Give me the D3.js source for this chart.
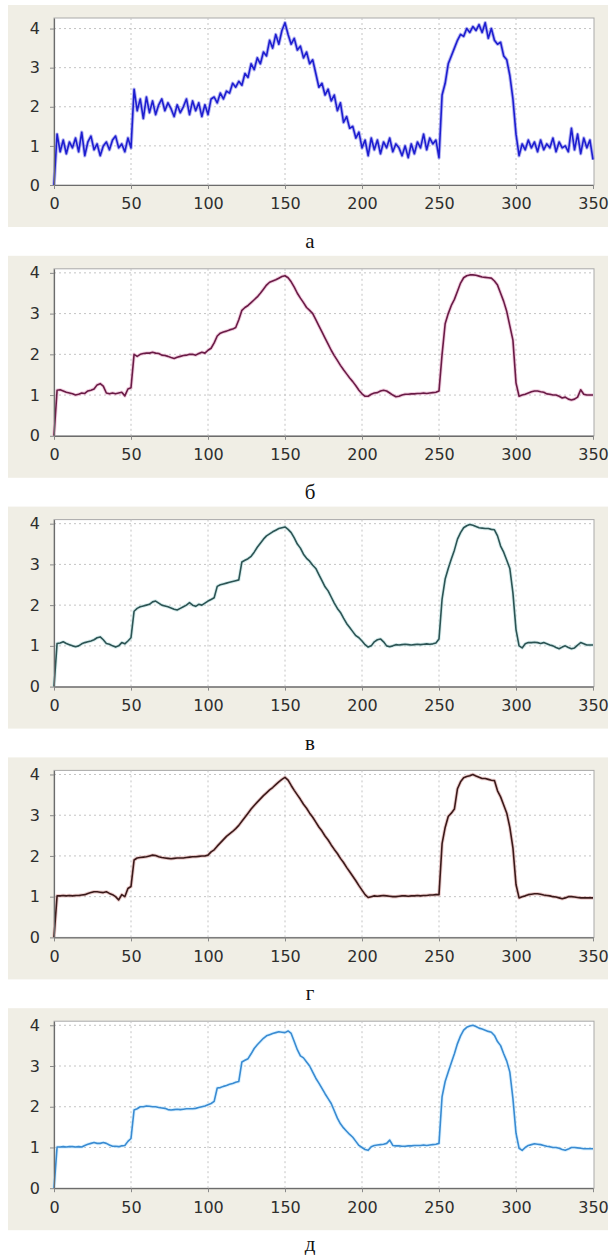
<!DOCTYPE html>
<html>
<head>
<meta charset="utf-8">
<script src="https://cdn.jsdelivr.net/npm/d3@7"></script>
<style>
  body { margin: 0; background: #fff; }
  .caption { font-family: "Liberation Serif", "Times New Roman", serif; font-size: 21px; fill: #111; }
</style>
</head>
<body>
<div id="chart"></div>
<script>
// samples every 2 units, t = 0..350
const sampleStep = 2;
const xTicks = [0, 50, 100, 150, 200, 250, 300, 350];
const yTicks = [0, 1, 2, 3, 4];
const captions = ['а', 'б', 'в', 'г', 'д'];

// а — raw noisy signal
const seriesA = [
  0, 1.3, 0.85, 1.15, 0.8, 1.1, 0.95, 1.2, 0.85, 1.35, 0.75, 1.1, 1.25, 0.9, 1.05, 0.75, 1.0, 1.1, 0.9, 1.15, 1.25, 0.95, 1.05, 0.85, 1.2,
  0.95, 2.45, 1.9, 2.2, 1.7, 2.25, 1.85, 2.15, 1.8, 2.05, 2.2, 1.9, 2.1, 1.95, 1.75, 2.05, 1.85, 2.0, 2.2, 1.8, 2.15, 1.9, 2.1, 1.75, 2.05,
  1.8, 2.2, 2.25, 2.1, 2.35, 2.2, 2.4, 2.35, 2.6, 2.5, 2.65, 2.55, 2.85, 2.75, 3.1, 2.95, 3.25, 3.1, 3.4, 3.3, 3.7, 3.5, 3.85, 3.6, 3.95,
  4.15, 3.85, 3.6, 3.75, 3.45, 3.55, 3.25, 3.4, 3.1, 3.2, 2.85, 2.5, 2.6, 2.3, 2.45, 2.15, 2.3, 1.9, 2.1, 1.6, 1.75, 1.45, 1.5, 1.2, 1.35,
  0.95, 1.15, 0.75, 1.2, 0.9, 1.15, 0.8, 1.1, 0.95, 1.2, 0.85, 1.05, 0.95, 0.75, 1.0, 0.7, 1.05, 0.8, 1.1, 0.95, 1.3, 0.9, 1.2, 1.05, 1.15,
  0.7, 2.3, 2.6, 3.1, 3.3, 3.5, 3.7, 3.85, 3.8, 4.0, 3.9, 4.05, 3.95, 4.1, 3.9, 4.15, 3.75, 4.0, 3.7, 3.6, 3.65, 3.3, 3.2, 2.8, 2.2,
  1.3, 0.75, 1.05, 0.9, 1.15, 0.95, 1.1, 0.85, 1.15, 0.9, 1.05, 0.95, 1.2, 0.85, 1.1, 0.95, 1.0, 0.85, 1.45, 0.9, 1.3, 0.8, 1.2, 0.95, 1.15,
  0.65
];

// б
const seriesB = [
  0, 1.12, 1.13, 1.1, 1.07, 1.05, 1.03, 1.0, 1.02, 1.05, 1.04, 1.1, 1.12, 1.15, 1.25, 1.28, 1.22, 1.05, 1.03, 1.05, 1.03, 1.05, 1.07, 0.98, 1.15,
  1.18, 2.0, 1.95, 2.0, 2.02, 2.03, 2.03, 2.05, 2.03, 2.02, 1.98, 1.97, 1.95, 1.92, 1.9, 1.93, 1.95, 1.97, 1.98, 2.0, 2.0, 1.98, 2.02, 2.05, 2.03,
  2.1, 2.15, 2.28, 2.45, 2.52, 2.55, 2.57, 2.6, 2.62, 2.66, 2.85, 3.08, 3.15, 3.2, 3.27, 3.34, 3.41, 3.5, 3.6, 3.7, 3.77, 3.8, 3.83, 3.87, 3.91,
  3.93, 3.88, 3.78, 3.65, 3.5, 3.38, 3.27, 3.15, 3.08, 3.0, 2.85, 2.7, 2.55, 2.4, 2.25, 2.1, 1.97, 1.85, 1.73, 1.62, 1.52, 1.42, 1.33, 1.23, 1.12,
  1.03, 0.97, 0.97, 1.02, 1.05, 1.06, 1.1, 1.12, 1.1, 1.05, 1.0, 0.96, 0.97, 1.0, 1.02, 1.02, 1.03, 1.03, 1.04, 1.04, 1.05, 1.04, 1.05, 1.06, 1.07,
  1.1, 2.0, 2.75, 3.0, 3.2, 3.35, 3.55, 3.75, 3.88, 3.93, 3.95, 3.95, 3.94, 3.92, 3.9, 3.89, 3.88, 3.87, 3.8, 3.7, 3.5, 3.3, 3.05, 2.7, 2.35,
  1.3, 0.97, 1.0, 1.02, 1.05, 1.08, 1.1, 1.1, 1.08, 1.07, 1.03, 1.02, 1.0, 1.0, 0.97, 0.93, 0.95, 0.9, 0.88, 0.9, 0.95, 1.13, 1.02, 1.0, 1.0,
  1.0
];

// в
const seriesC = [
  0, 1.06, 1.07, 1.1, 1.06, 1.03, 1.0, 0.98, 1.0, 1.05, 1.08, 1.1, 1.12, 1.15, 1.2, 1.22, 1.15, 1.06, 1.04, 1.0, 0.97, 1.0, 1.08, 1.05, 1.12,
  1.2, 1.85, 1.92, 1.96, 1.98, 2.0, 2.02, 2.08, 2.1, 2.05, 2.0, 1.98, 1.96, 1.93, 1.9, 1.88, 1.92, 1.96, 2.0, 2.06, 2.0, 1.97, 2.02, 2.0, 2.05,
  2.1, 2.14, 2.18, 2.46, 2.5, 2.52, 2.54, 2.56, 2.58, 2.6, 2.62, 3.06, 3.1, 3.14, 3.2, 3.3, 3.42, 3.52, 3.62, 3.7, 3.75, 3.8, 3.84, 3.88, 3.9,
  3.92, 3.86, 3.78, 3.65, 3.5, 3.4, 3.25, 3.15, 3.08, 2.98, 2.9, 2.75, 2.6, 2.45, 2.35, 2.2, 2.05, 1.92, 1.82, 1.68, 1.55, 1.45, 1.35, 1.25, 1.2,
  1.12, 1.03, 0.97, 1.0, 1.1, 1.15, 1.17, 1.1, 1.0, 0.98, 1.0, 1.03, 1.02, 1.03, 1.04, 1.03, 1.02, 1.03, 1.04, 1.03, 1.04, 1.05, 1.04, 1.05, 1.07,
  1.17, 2.15, 2.64, 2.9, 3.13, 3.35, 3.62, 3.78, 3.9, 3.95, 3.98, 3.96, 3.93, 3.9, 3.89, 3.88, 3.88, 3.86, 3.85, 3.7, 3.45, 3.3, 3.1, 2.9, 2.3,
  1.4, 1.0, 0.95, 1.05, 1.08, 1.08, 1.09, 1.08, 1.06, 1.08, 1.05, 1.02, 1.0, 0.96, 0.93, 0.97, 1.0, 0.96, 0.93, 0.95, 1.02, 1.08, 1.05, 1.02, 1.02,
  1.02
];

// г
const seriesD = [
  0, 1.02, 1.02, 1.03, 1.02, 1.03, 1.02, 1.03, 1.03, 1.04, 1.05, 1.08, 1.1, 1.12, 1.12, 1.11, 1.1, 1.12, 1.08, 1.05, 1.0, 0.92, 1.05, 1.0, 1.2,
  1.25, 1.9, 1.95, 1.96, 1.97, 1.98, 2.0, 2.02, 2.01, 1.98, 1.96, 1.95, 1.94, 1.93, 1.94, 1.95, 1.95, 1.95, 1.96, 1.97, 1.98, 1.98, 1.99, 2.0, 2.0,
  2.02, 2.1, 2.15, 2.24, 2.32, 2.4, 2.48, 2.54, 2.6, 2.67, 2.75, 2.85, 2.95, 3.05, 3.15, 3.24, 3.32, 3.4, 3.48, 3.55, 3.62, 3.68, 3.75, 3.82, 3.88,
  3.93, 3.86, 3.73, 3.61, 3.5, 3.39, 3.27, 3.17, 3.05, 2.95, 2.83, 2.71, 2.61, 2.49, 2.39, 2.27, 2.16, 2.06, 1.94, 1.84, 1.72, 1.61, 1.5, 1.39, 1.27,
  1.16, 1.05, 0.98, 1.0, 1.02, 1.01, 1.02, 1.03, 1.02, 1.01, 1.0, 1.0, 1.01, 1.02, 1.02, 1.01, 1.02, 1.02, 1.03, 1.02, 1.03, 1.03, 1.04, 1.04, 1.05,
  1.05, 2.3, 2.7, 2.97, 3.05, 3.15, 3.65, 3.82, 3.92, 3.95, 3.97, 4.0, 3.96, 3.93, 3.9, 3.9, 3.88, 3.86, 3.85, 3.6, 3.45, 3.25, 3.05, 2.7, 2.2,
  1.3, 0.97, 1.0, 1.02, 1.05, 1.06, 1.07, 1.07, 1.06, 1.04, 1.03, 1.02, 1.0, 0.99, 0.97, 0.95, 0.97, 1.0, 1.0, 0.99, 0.98, 0.97, 0.97, 0.97, 0.97,
  0.97
];

// д
const seriesE = [
  0, 1.01, 1.01, 1.02, 1.01, 1.02, 1.02, 1.01, 1.02, 1.01, 1.05, 1.08, 1.1, 1.12, 1.1, 1.1, 1.12, 1.1, 1.06, 1.03, 1.03, 1.02, 1.04, 1.05, 1.15,
  1.22, 1.92, 1.95, 2.0, 2.0, 2.02, 2.01, 2.0, 2.0, 1.98, 1.97, 1.96, 1.93, 1.92, 1.93, 1.94, 1.93, 1.94, 1.95, 1.95, 1.95, 1.96, 1.98, 2.0, 2.02,
  2.05, 2.08, 2.13, 2.46, 2.47, 2.5, 2.52, 2.55, 2.57, 2.6, 2.62, 3.1, 3.14, 3.18, 3.3, 3.43, 3.52, 3.6, 3.68, 3.74, 3.77, 3.8, 3.82, 3.84, 3.83,
  3.82, 3.86, 3.8, 3.6, 3.4, 3.25, 3.2, 3.1, 3.0, 2.85, 2.7, 2.58, 2.45, 2.32, 2.2, 2.08, 1.9, 1.72, 1.58, 1.48, 1.4, 1.32, 1.25, 1.15, 1.05,
  1.0, 0.95, 0.93, 1.02, 1.05, 1.06, 1.07, 1.08, 1.1, 1.18, 1.05, 1.04, 1.04, 1.03, 1.03, 1.04, 1.04, 1.05, 1.05, 1.05, 1.06, 1.05, 1.06, 1.07, 1.08,
  1.1, 2.25, 2.62, 2.85, 3.08, 3.3, 3.55, 3.74, 3.88, 3.95, 3.98, 4.0, 3.97, 3.93, 3.91, 3.88, 3.85, 3.83, 3.75, 3.6, 3.5, 3.3, 3.12, 2.85, 2.2,
  1.35, 0.98, 0.93, 1.0, 1.05, 1.07, 1.09, 1.08, 1.07, 1.05, 1.03, 1.02, 1.0, 1.0, 0.98, 0.95, 0.93, 0.96, 1.0, 1.0, 0.99, 0.98, 0.97, 0.97, 0.97,
  0.97
];

const allSeries = [seriesA, seriesB, seriesC, seriesD, seriesE];
const yMaxes = [4.27, 4.1, 4.1, 4.1, 4.1];
const lineColors = ['#1e1ed0', '#6a1c46', '#2d5454', '#3a1a1a', '#3a8bd2'];
const haloColors = ['#7a7ae8', '#e6a6c6', '#b6dede', '#d9a0a0', '#bfe8ff'];

const width = 611;
const height = 1255;
const frameLeft = 8, frameWidth = 600, frameHeight = 222;
const plotLeft = 54, plotRight = 594;

const svg = d3.select('#chart')
  .append('svg')
  .attr('width', width)
  .attr('height', height);

const x = d3.scaleLinear().domain([0, 350]).range([plotLeft, plotRight - 1]);

allSeries.forEach(function(series, i) {
  const top = 5 + i * 250.8;
  const plotTop = top + 13;
  const plotBottom = top + 180;
  const g = svg.append('g');

  g.append('rect')
    .attr('x', frameLeft)
    .attr('y', top)
    .attr('width', frameWidth)
    .attr('height', frameHeight)
    .attr('fill', '#f0eee5');

  g.append('rect')
    .attr('x', plotLeft)
    .attr('y', plotTop)
    .attr('width', plotRight - plotLeft)
    .attr('height', plotBottom - plotTop)
    .attr('fill', '#fff')
    .attr('stroke', '#a9a9a9');

  const y = d3.scaleLinear().domain([0, yMaxes[i]]).range([plotBottom, plotTop]);

  // grid
  g.selectAll('.hgrid')
    .data(yTicks.slice(1))
    .enter()
    .append('line')
    .attr('x1', plotLeft)
    .attr('x2', plotRight)
    .attr('y1', d => y(d))
    .attr('y2', d => y(d))
    .attr('stroke', '#c4c4c4')
    .attr('stroke-dasharray', '2,3');
  g.selectAll('.vgrid')
    .data(xTicks.slice(1, -1))
    .enter()
    .append('line')
    .attr('x1', d => x(d))
    .attr('x2', d => x(d))
    .attr('y1', plotTop)
    .attr('y2', plotBottom)
    .attr('stroke', '#c4c4c4')
    .attr('stroke-dasharray', '2,3');

  const line = d3.line()
    .x((d, k) => x(k * sampleStep))
    .y(d => y(d));

  g.append('path')
    .datum(series)
    .attr('d', line)
    .attr('fill', 'none')
    .attr('stroke', haloColors[i])
    .attr('stroke-width', 3.5)
    .attr('stroke-linejoin', 'round')
    .attr('opacity', 0.55);
  g.append('path')
    .datum(series)
    .attr('d', line)
    .attr('fill', 'none')
    .attr('stroke', lineColors[i])
    .attr('stroke-width', 1.6)
    .attr('stroke-linejoin', 'round');

  const yAxis = g.append('g')
    .attr('transform', 'translate(' + plotLeft + ',0)')
    .call(d3.axisLeft(y).tickValues(yTicks).tickSize(4).tickSizeOuter(0).tickPadding(10).tickFormat(d3.format('d')));
  const xAxis = g.append('g')
    .attr('transform', 'translate(0,' + plotBottom + ')')
    .call(d3.axisBottom(x).tickValues(xTicks).tickSize(4).tickSizeOuter(0).tickPadding(9));

  [yAxis, xAxis].forEach(function(a) {
    a.attr('font-family', '"DejaVu Sans", Verdana, sans-serif').attr('font-size', 16);
    a.selectAll('.tick text').attr('fill', '#2e2e2e');
    a.select('.domain').attr('stroke', '#6c6c6c').attr('stroke-width', 1.2);
    a.selectAll('.tick line').attr('stroke', '#8a8a8a');
  });

  g.append('text')
    .attr('class', 'caption')
    .attr('x', 310)
    .attr('y', top + 243)
    .attr('text-anchor', 'middle')
    .text(captions[i]);
});
</script>
</body>
</html>
